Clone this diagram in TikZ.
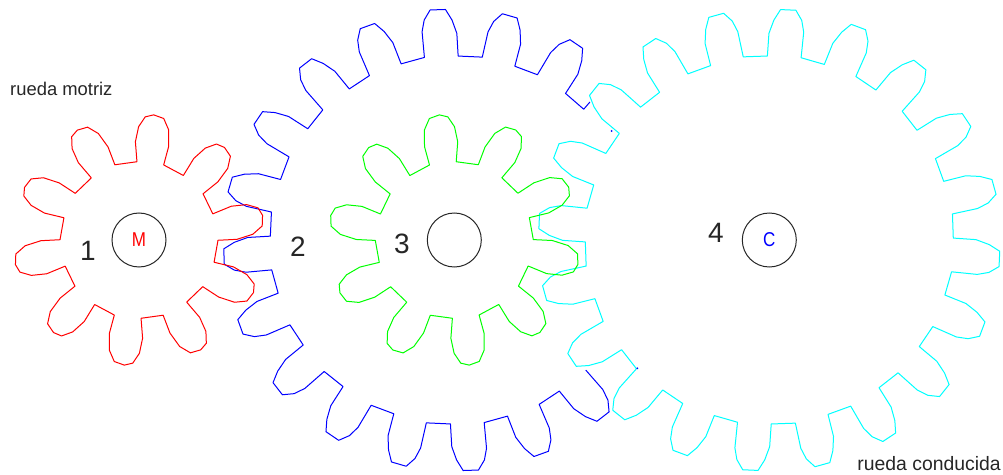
\documentclass[tikz,border=0pt]{standalone}
\usepackage{fontspec}
\setmainfont{Liberation Sans}
\usepackage{xcolor}
\definecolor{gearcyan}{RGB}{0,255,255}
\definecolor{gearblue}{RGB}{0,0,255}
\definecolor{gearred}{RGB}{255,0,0}
\definecolor{geargreen}{RGB}{0,255,0}

% Tooth outlines: angle offset / radius
\newcommand{\smalltooth}{0/78.3,-0.6/98.3,1.3/113.3,4.4/123.3,8.2/126,13/124,16.6/114,19.1/98,19.7/79}
\newcommand{\bigtooth}{0/185,0.5/210.7,1.5/222,3.3/231.3,7.1/230.7,8.7/220,10/206.7,10.5/184}

% center, pitch, last tooth, start angle, direction, root radius, outline, path end
\newcommand{\drawgear}[9][]{%
  \draw[gearline,#1,shift={#2}] (#5:#7)
    \foreach \k in {0,...,#4} {
      \foreach \da/\dr in #8 { -- ({#5+#6*(\da+\k*#3)}:\dr) }
    } #9;
}

\begin{document}
\begin{tikzpicture}[
  x=1pt, y=1pt,
  % Gear Styles
  gearline/.style={line width=1pt, line join=round},
  % Node Styles
  hub/.style={circle, draw=black!85, line width=1pt, minimum size=54pt, inner sep=0pt, font=\fontsize{20}{20}\selectfont},
  number/.style={inner sep=0pt, text=black!85, font=\fontsize{28}{28}\selectfont},
  caption/.style={inner sep=0pt, text=black!85, font=\fontsize{18.4}{18.4}\selectfont},
  speck/.style={circle, fill=gearblue, inner sep=0pt, minimum size=2pt}
]
\useasboundingbox (0,0) rectangle (1003,474);

% Blue wheel stops where the cyan one begins
\drawgear[gearblue]{(454.3,234)}{18}{14}{-44.7}{-1}{185}{\bigtooth}{-- (45.3:184) -- (45.5:193.5)}
\drawgear[gearcyan]{(769.3,234)}{18}{19}{80.1}{1}{185}{\bigtooth}{-- cycle}
\drawgear[geargreen]{(454.3,234)}{36}{9}{88.6}{1}{78.3}{\smalltooth}{-- cycle}
\drawgear[gearred]{(139,234)}{36}{9}{91.5}{-1}{78.3}{\smalltooth}{-- cycle}

\node[speck] (speck_1) at (611.7,343) {};
\node[speck] (speck_2) at (637.3,105.7) {};

\node[hub, text=gearred] (hub_1) at (139,234) {\scalebox{.85}[1]{M}};
\node[hub] (hub_3) at (454.3,234) {};
\node[hub, text=gearblue] (hub_4) at (769.3,234) {\scalebox{.85}[1]{C}};

\node[number] (num_1) at (88,223) {1};
\node[number] (num_2) at (298,227) {2};
\node[number] (num_3) at (402,230) {3};
\node[number] (num_4) at (716,241) {4};

\node[caption, anchor=west] (driver) at (10,385) {rueda motriz};
\node[caption, anchor=east, font=\fontsize{19.4}{19.4}\selectfont] (driven) at (1001,10) {rueda conducida};

\end{tikzpicture}
\end{document}
